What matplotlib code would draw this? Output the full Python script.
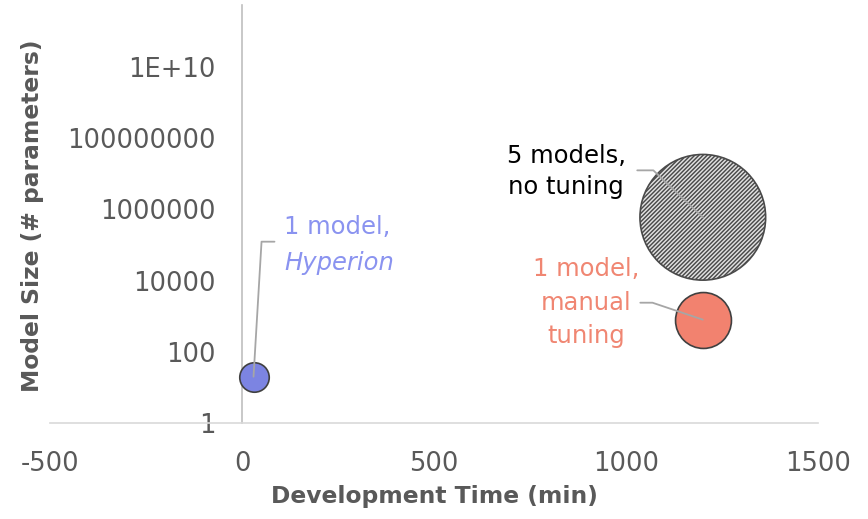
import matplotlib
matplotlib.use("Agg")
import matplotlib.pyplot as plt
import numpy as np

plt.rcParams['font.family'] = ['DejaVu Sans']
plt.rcParams['hatch.color'] = '#606060'
plt.rcParams['hatch.linewidth'] = 1.05

# Bubble series: development time (min), model size (# parameters), bubble size
series_names = ["Hyperion", "manual tuning", "no tuning"]
dev_time = [30, 1200, 1200]
model_size = [20, 800, 600000]
bubble_size = [1.0, 3.6, 18.2]

x_ticks = [-500, 0, 500, 1000, 1500]
y_ticks = [1, 1e2, 1e4, 1e6, 1e8, 1e10]
y_tick_labels = ["1", "100", "10000", "1000000", "100000000", "1E+10"]

GRAY_TEXT = '#595959'
BLUE_FILL = '#7c84e2'
BLUE_TEXT = '#8a93f0'
SALMON_FILL = '#f2826f'
SALMON_TEXT = '#f08672'
LEADER = '#a6a6a6'
SIZE_SCALE = 450

fig = plt.figure(figsize=(8.68, 5.19), dpi=100)
ax = fig.add_axes([50 / 868, (519 - 423) / 519, 768 / 868, 418 / 519])

ax.set_yscale('log')
ax.set_xlim(-500, 1500)
ax.set_ylim(1, 10 ** (418 / 35.6))

# Hatched bubble (5 models, no tuning)
ax.scatter([dev_time[2]], [model_size[2]], s=bubble_size[2] * SIZE_SCALE,
           facecolor='#e2e2e2', edgecolor='#4a4a4a', linewidth=1.2,
           hatch='////////', zorder=3)
# Manual tuning bubble
ax.scatter([dev_time[1]], [model_size[1]], s=bubble_size[1] * SIZE_SCALE,
           facecolor=SALMON_FILL, edgecolor='#404040', linewidth=1.2, zorder=3)
# Hyperion bubble
ax.scatter([dev_time[0]], [model_size[0]], s=bubble_size[0] * SIZE_SCALE,
           facecolor=BLUE_FILL, edgecolor='#404040', linewidth=1.2, zorder=3)

# Axes styling
for side in ('top', 'right'):
    ax.spines[side].set_visible(False)
ax.spines['bottom'].set_color('#d9d9d9')
ax.spines['bottom'].set_linewidth(1.2)
ax.spines['left'].set_position(('data', 0))
ax.spines['left'].set_color('#bfbfbf')
ax.spines['left'].set_linewidth(1.2)

ax.set_xticks(x_ticks)
ax.set_xticklabels([str(t) for t in x_ticks])
ax.set_yticks(y_ticks)
ax.set_yticklabels(y_tick_labels)
ax.yaxis.set_minor_locator(matplotlib.ticker.NullLocator())
ax.tick_params(axis='x', length=0, pad=20, labelsize=18.5, labelcolor=GRAY_TEXT)
ax.tick_params(axis='y', length=0, pad=19, labelsize=18.5, labelcolor=GRAY_TEXT)

fig.text(434 / 868, 1 - 497 / 519, "Development Time (min)", ha='center', va='center',
         fontsize=16.8, fontweight='bold', color=GRAY_TEXT)
fig.text(33 / 868, 1 - 216 / 519, "Model Size (# parameters)", ha='center', va='center',
         rotation=90, fontsize=16.8, fontweight='bold', color=GRAY_TEXT)

# Data labels with leader lines
def leader(i, end_pt, angle_b):
    ax.annotate("", xy=(dev_time[i], model_size[i]), xycoords='data',
                xytext=end_pt, textcoords='offset points',
                arrowprops=dict(arrowstyle='-', color=LEADER, lw=1.3,
                                shrinkA=0, shrinkB=0,
                                connectionstyle=f"angle,angleA=0,angleB={angle_b},rad=0"),
                zorder=4)

leader(0, (15.1, 97.2), 86.6)
ax.annotate("1 model,", xy=(dev_time[0], model_size[0]), xytext=(22.3, 107.5),
            textcoords='offset points', ha='left', va='center',
            fontsize=17.5, color=BLUE_TEXT)
ax.annotate("Hyperion", xy=(dev_time[0], model_size[0]), xytext=(22.3, 82.0),
            textcoords='offset points', ha='left', va='center',
            fontsize=17.5, color=BLUE_TEXT, style='italic')

leader(1, (-45.0, 12.2), 161.4)
ax.annotate("1 model,\nmanual\ntuning", xy=(dev_time[1], model_size[1]),
            xytext=(-83.9, 12.2), textcoords='offset points',
            ha='center', va='center', multialignment='center', linespacing=1.5,
            fontsize=17.5, color=SALMON_TEXT)

leader(2, (-47.2, 33.8), 136.5)
ax.annotate("5 models,\nno tuning", xy=(dev_time[2], model_size[2]),
            xytext=(-98.3, 33.1), textcoords='offset points',
            ha='center', va='center', multialignment='center', linespacing=1.4,
            fontsize=17.5, color='#000000')

fig.savefig("out.png", dpi=100)
